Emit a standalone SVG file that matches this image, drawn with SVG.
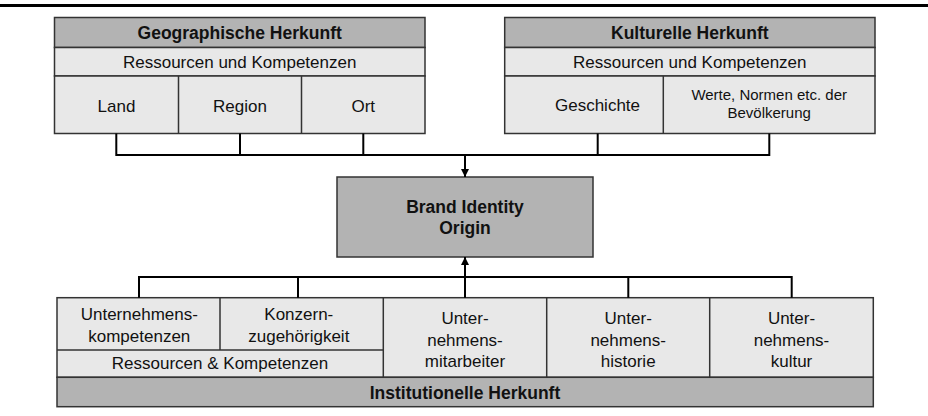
<svg xmlns="http://www.w3.org/2000/svg" width="928" height="416" viewBox="0 0 928 416">
<style>
  .dark{fill:#b3b3b3;stroke:#333;stroke-width:1.5}
  .light{fill:#e8e8e8;stroke:#333;stroke-width:1.5}
  .div{stroke:#333;stroke-width:1.5;fill:none}
  text{font-family:"Liberation Sans",Arial,sans-serif;fill:#111;text-anchor:middle}
  .b{font-weight:bold;font-size:17.5px}
  .r{font-size:17px}
  .s{font-size:15px}
  .conn{stroke:#000;stroke-width:2;fill:none}
</style>
<defs>
  <marker id="arr" viewBox="0 0 8 8" refX="8" refY="4" markerWidth="8" markerHeight="8" markerUnits="userSpaceOnUse" orient="auto">
    <path d="M0,0 L8,4 L0,8 Z" fill="#000"/>
  </marker>
</defs>
<rect x="0" y="0" width="928" height="416" fill="#fff"/>
<line x1="0" y1="5.5" x2="928" y2="5.5" stroke="#000" stroke-width="3"/>

<g id="geographische">
  <rect class="dark" x="54.5" y="17.5" width="370.5" height="30"/>
  <rect class="light" x="54.5" y="47.5" width="370.5" height="28.5"/>
  <rect class="light" x="54.5" y="76" width="370.5" height="57.5"/>
  <line class="div" x1="178.5" y1="76" x2="178.5" y2="133.5"/>
  <line class="div" x1="301.5" y1="76" x2="301.5" y2="133.5"/>
  <text class="b" x="239.7" y="39">Geographische Herkunft</text>
  <text class="r" x="239.7" y="67.5">Ressourcen und Kompetenzen</text>
  <text class="r" x="116.5" y="111.5">Land</text>
  <text class="r" x="240" y="111.5">Region</text>
  <text class="r" x="363.3" y="111.5">Ort</text>
</g>

<g id="kulturelle">
  <rect class="dark" x="504.7" y="17.5" width="370.3" height="30"/>
  <rect class="light" x="504.7" y="47.5" width="370.3" height="28.5"/>
  <rect class="light" x="504.7" y="76" width="370.3" height="57.5"/>
  <line class="div" x1="663.3" y1="76" x2="663.3" y2="133.5"/>
  <text class="b" x="689.8" y="39">Kulturelle Herkunft</text>
  <text class="r" x="689.8" y="67.5">Ressourcen und Kompetenzen</text>
  <text class="r" x="597.5" y="111">Geschichte</text>
  <text class="s" x="769.2" y="99.5">Werte, Normen etc. der</text>
  <text class="s" x="769.2" y="117.5">Bevölkerung</text>
</g>

<g id="brand">
  <rect class="dark" x="337" y="177" width="256" height="80"/>
  <text class="b" x="465" y="213.3">Brand Identity</text>
  <text class="b" x="465" y="234">Origin</text>
</g>

<g id="institutionelle">
  <rect class="light" x="57" y="297.7" width="816.3" height="79.6"/>
  <rect class="dark" x="57" y="377.3" width="816.3" height="29.4"/>
  <line class="div" x1="57" y1="350" x2="383.3" y2="350"/>
  <line class="div" x1="220" y1="297.7" x2="220" y2="350"/>
  <line class="div" x1="383.3" y1="297.7" x2="383.3" y2="377.3"/>
  <line class="div" x1="546.7" y1="297.7" x2="546.7" y2="377.3"/>
  <line class="div" x1="709.7" y1="297.7" x2="709.7" y2="377.3"/>
  <text class="r" x="139.3" y="320">Unternehmens-</text>
  <text class="r" x="139.3" y="341.5">kompetenzen</text>
  <text class="r" x="298.8" y="320">Konzern-</text>
  <text class="r" x="298.8" y="341.5">zugehörigkeit</text>
  <text class="r" x="220" y="369">Ressourcen &amp; Kompetenzen</text>
  <text class="r" x="465" y="324">Unter-</text>
  <text class="r" x="465" y="345.5">nehmens-</text>
  <text class="r" x="465" y="367">mitarbeiter</text>
  <text class="r" x="628.2" y="324">Unter-</text>
  <text class="r" x="628.2" y="345.5">nehmens-</text>
  <text class="r" x="628.2" y="367">historie</text>
  <text class="r" x="791.5" y="324">Unter-</text>
  <text class="r" x="791.5" y="345.5">nehmens-</text>
  <text class="r" x="791.5" y="367">kultur</text>
  <text class="b" x="465" y="398.5">Institutionelle Herkunft</text>
</g>

<g id="connectors">
  <path class="conn" d="M116.3,133.5 V155 H769.3 V133.5 M240,133.5 V155 M363.3,133.5 V155 M597.7,133.5 V155"/>
  <line class="conn" x1="465" y1="155" x2="465" y2="177" marker-end="url(#arr)"/>
  <path class="conn" d="M139,297.7 V277 H791.7 V297.7 M298,277 V297.7 M628.3,277 V297.7"/>
  <line class="conn" x1="465" y1="297.7" x2="465" y2="257" marker-end="url(#arr)"/>
</g>
</svg>
